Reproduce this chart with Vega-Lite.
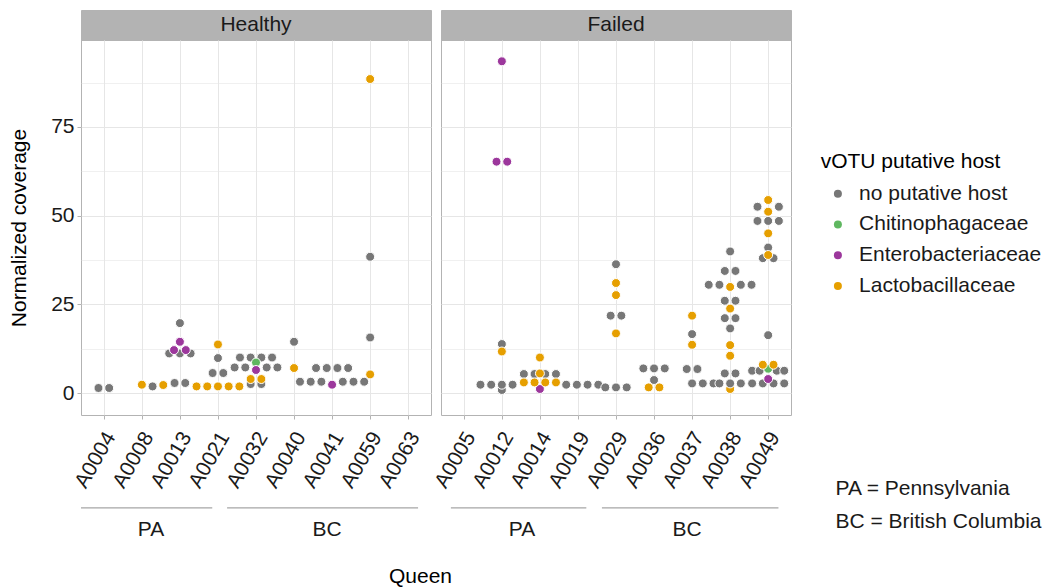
{
  "$schema": "https://vega.github.io/schema/vega-lite/v6.json",
  "background": "white",
  "padding": {"left": 8, "top": 9, "right": 0, "bottom": 0},
  "config": {
    "font": "Liberation Sans",
    "view": {"stroke": "#B3B3B3", "strokeWidth": 1},
    "axis": {"labelFont": "Liberation Sans", "titleFont": "Liberation Sans", "labelFontSize": 21, "titleFontSize": 21, "titleFontWeight": "normal", "labelColor": "#1A1A1A", "titleColor": "#000000", "gridColor": "#E6E6E6", "tickColor": "#B3B3B3", "domain": false},
    "legend": {"orient": "none", "legendX": 739.7, "legendY": 141.4, "titleFont": "Liberation Sans", "labelFont": "Liberation Sans", "titleFontSize": 21, "titleFontWeight": "normal", "titleColor": "#000000", "labelFontSize": 21, "labelColor": "#1A1A1A", "labelLimit": 400, "symbolType": "circle", "symbolSize": 64, "symbolStrokeWidth": 0, "symbolOpacity": 1, "symbolOffset": 6.7, "labelOffset": 10.7, "rowPadding": 8.7, "titlePadding": 10.9, "padding": 0}
  },
  "title": {"text": "Queen", "orient": "bottom", "anchor": "start", "frame": "group", "dx": 308, "offset": 21, "fontSize": 21, "fontWeight": "normal", "font": "Liberation Sans", "color": "#000000"},
  "datasets": {
    "pts": [
      {"status": "Healthy", "queen": "A0004", "host": "no putative host", "coverage": 1.41, "offset": -0.5},
      {"status": "Healthy", "queen": "A0004", "host": "no putative host", "coverage": 1.41, "offset": 0.5},
      {"status": "Healthy", "queen": "A0008", "host": "no putative host", "coverage": 1.86, "offset": 1},
      {"status": "Healthy", "queen": "A0013", "host": "no putative host", "coverage": 2.82, "offset": -0.5},
      {"status": "Healthy", "queen": "A0013", "host": "no putative host", "coverage": 2.82, "offset": 0.5},
      {"status": "Healthy", "queen": "A0013", "host": "no putative host", "coverage": 11.15, "offset": -1},
      {"status": "Healthy", "queen": "A0013", "host": "no putative host", "coverage": 11.15, "offset": 0},
      {"status": "Healthy", "queen": "A0013", "host": "no putative host", "coverage": 11.15, "offset": 1},
      {"status": "Healthy", "queen": "A0013", "host": "no putative host", "coverage": 19.7, "offset": 0},
      {"status": "Healthy", "queen": "A0021", "host": "no putative host", "coverage": 5.63, "offset": -0.5},
      {"status": "Healthy", "queen": "A0021", "host": "no putative host", "coverage": 5.63, "offset": 0.5},
      {"status": "Healthy", "queen": "A0021", "host": "no putative host", "coverage": 9.85, "offset": 0},
      {"status": "Healthy", "queen": "A0032", "host": "no putative host", "coverage": 2.53, "offset": -0.5},
      {"status": "Healthy", "queen": "A0032", "host": "no putative host", "coverage": 2.53, "offset": 0.5},
      {"status": "Healthy", "queen": "A0032", "host": "no putative host", "coverage": 7.2, "offset": -2},
      {"status": "Healthy", "queen": "A0032", "host": "no putative host", "coverage": 7.2, "offset": -1},
      {"status": "Healthy", "queen": "A0032", "host": "no putative host", "coverage": 7.2, "offset": 1},
      {"status": "Healthy", "queen": "A0032", "host": "no putative host", "coverage": 7.2, "offset": 2},
      {"status": "Healthy", "queen": "A0032", "host": "no putative host", "coverage": 10.0, "offset": -1.5},
      {"status": "Healthy", "queen": "A0032", "host": "no putative host", "coverage": 10.0, "offset": -0.5},
      {"status": "Healthy", "queen": "A0032", "host": "no putative host", "coverage": 10.0, "offset": 0.5},
      {"status": "Healthy", "queen": "A0032", "host": "no putative host", "coverage": 10.0, "offset": 1.5},
      {"status": "Healthy", "queen": "A0040", "host": "no putative host", "coverage": 14.44, "offset": 0},
      {"status": "Healthy", "queen": "A0041", "host": "no putative host", "coverage": 3.18, "offset": -3},
      {"status": "Healthy", "queen": "A0041", "host": "no putative host", "coverage": 3.18, "offset": -2},
      {"status": "Healthy", "queen": "A0041", "host": "no putative host", "coverage": 3.18, "offset": -1},
      {"status": "Healthy", "queen": "A0041", "host": "no putative host", "coverage": 3.18, "offset": 1},
      {"status": "Healthy", "queen": "A0041", "host": "no putative host", "coverage": 3.18, "offset": 2},
      {"status": "Healthy", "queen": "A0041", "host": "no putative host", "coverage": 3.18, "offset": 3},
      {"status": "Healthy", "queen": "A0041", "host": "no putative host", "coverage": 7.04, "offset": -1.5},
      {"status": "Healthy", "queen": "A0041", "host": "no putative host", "coverage": 7.04, "offset": -0.5},
      {"status": "Healthy", "queen": "A0041", "host": "no putative host", "coverage": 7.04, "offset": 0.5},
      {"status": "Healthy", "queen": "A0041", "host": "no putative host", "coverage": 7.04, "offset": 1.5},
      {"status": "Healthy", "queen": "A0059", "host": "no putative host", "coverage": 15.65, "offset": 0},
      {"status": "Healthy", "queen": "A0059", "host": "no putative host", "coverage": 38.4, "offset": 0},
      {"status": "Healthy", "queen": "A0032", "host": "Chitinophagaceae", "coverage": 8.6, "offset": 0},
      {"status": "Healthy", "queen": "A0013", "host": "Enterobacteriaceae", "coverage": 12.1, "offset": -0.55},
      {"status": "Healthy", "queen": "A0013", "host": "Enterobacteriaceae", "coverage": 12.1, "offset": 0.55},
      {"status": "Healthy", "queen": "A0013", "host": "Enterobacteriaceae", "coverage": 14.44, "offset": 0},
      {"status": "Healthy", "queen": "A0032", "host": "Enterobacteriaceae", "coverage": 6.48, "offset": 0},
      {"status": "Healthy", "queen": "A0041", "host": "Enterobacteriaceae", "coverage": 2.34, "offset": 0},
      {"status": "Healthy", "queen": "A0008", "host": "Lactobacillaceae", "coverage": 2.34, "offset": 0},
      {"status": "Healthy", "queen": "A0008", "host": "Lactobacillaceae", "coverage": 2.25, "offset": 2},
      {"status": "Healthy", "queen": "A0021", "host": "Lactobacillaceae", "coverage": 1.86, "offset": -2},
      {"status": "Healthy", "queen": "A0021", "host": "Lactobacillaceae", "coverage": 1.86, "offset": -1},
      {"status": "Healthy", "queen": "A0021", "host": "Lactobacillaceae", "coverage": 1.86, "offset": 0},
      {"status": "Healthy", "queen": "A0021", "host": "Lactobacillaceae", "coverage": 1.86, "offset": 1},
      {"status": "Healthy", "queen": "A0021", "host": "Lactobacillaceae", "coverage": 1.86, "offset": 2},
      {"status": "Healthy", "queen": "A0021", "host": "Lactobacillaceae", "coverage": 13.68, "offset": 0},
      {"status": "Healthy", "queen": "A0032", "host": "Lactobacillaceae", "coverage": 3.94, "offset": -0.5},
      {"status": "Healthy", "queen": "A0032", "host": "Lactobacillaceae", "coverage": 3.94, "offset": 0.5},
      {"status": "Healthy", "queen": "A0040", "host": "Lactobacillaceae", "coverage": 7.04, "offset": 0},
      {"status": "Healthy", "queen": "A0059", "host": "Lactobacillaceae", "coverage": 5.24, "offset": 0},
      {"status": "Healthy", "queen": "A0059", "host": "Lactobacillaceae", "coverage": 88.5, "offset": 0},

      {"status": "Failed", "queen": "A0038", "host": "Lactobacillaceae", "coverage": 1.13, "offset": 0},
      {"status": "Failed", "queen": "A0012", "host": "no putative host", "coverage": 0.85, "offset": 0},
      {"status": "Failed", "queen": "A0012", "host": "no putative host", "coverage": 2.34, "offset": -2},
      {"status": "Failed", "queen": "A0012", "host": "no putative host", "coverage": 2.34, "offset": -1},
      {"status": "Failed", "queen": "A0012", "host": "no putative host", "coverage": 2.34, "offset": 0},
      {"status": "Failed", "queen": "A0012", "host": "no putative host", "coverage": 2.34, "offset": 1},
      {"status": "Failed", "queen": "A0012", "host": "no putative host", "coverage": 13.8, "offset": 0},
      {"status": "Failed", "queen": "A0014", "host": "no putative host", "coverage": 5.35, "offset": -1.5},
      {"status": "Failed", "queen": "A0014", "host": "no putative host", "coverage": 5.35, "offset": -0.5},
      {"status": "Failed", "queen": "A0014", "host": "no putative host", "coverage": 5.35, "offset": 0.5},
      {"status": "Failed", "queen": "A0014", "host": "no putative host", "coverage": 5.35, "offset": 1.5},
      {"status": "Failed", "queen": "A0019", "host": "no putative host", "coverage": 2.34, "offset": -1.1},
      {"status": "Failed", "queen": "A0019", "host": "no putative host", "coverage": 2.34, "offset": -0.1},
      {"status": "Failed", "queen": "A0019", "host": "no putative host", "coverage": 2.34, "offset": 0.9},
      {"status": "Failed", "queen": "A0019", "host": "no putative host", "coverage": 2.34, "offset": 1.9},
      {"status": "Failed", "queen": "A0029", "host": "no putative host", "coverage": 1.58, "offset": -1},
      {"status": "Failed", "queen": "A0029", "host": "no putative host", "coverage": 1.58, "offset": 0},
      {"status": "Failed", "queen": "A0029", "host": "no putative host", "coverage": 1.58, "offset": 1},
      {"status": "Failed", "queen": "A0029", "host": "no putative host", "coverage": 21.8, "offset": -0.5},
      {"status": "Failed", "queen": "A0029", "host": "no putative host", "coverage": 21.8, "offset": 0.5},
      {"status": "Failed", "queen": "A0029", "host": "no putative host", "coverage": 36.3, "offset": 0},
      {"status": "Failed", "queen": "A0036", "host": "no putative host", "coverage": 3.66, "offset": 0},
      {"status": "Failed", "queen": "A0036", "host": "no putative host", "coverage": 6.93, "offset": -1},
      {"status": "Failed", "queen": "A0036", "host": "no putative host", "coverage": 6.93, "offset": 0},
      {"status": "Failed", "queen": "A0036", "host": "no putative host", "coverage": 6.93, "offset": 1},
      {"status": "Failed", "queen": "A0037", "host": "no putative host", "coverage": 2.7, "offset": 0},
      {"status": "Failed", "queen": "A0037", "host": "no putative host", "coverage": 2.7, "offset": 1},
      {"status": "Failed", "queen": "A0037", "host": "no putative host", "coverage": 2.7, "offset": 2},
      {"status": "Failed", "queen": "A0037", "host": "no putative host", "coverage": 6.76, "offset": -0.5},
      {"status": "Failed", "queen": "A0037", "host": "no putative host", "coverage": 6.76, "offset": 0.5},
      {"status": "Failed", "queen": "A0037", "host": "no putative host", "coverage": 16.6, "offset": 0},
      {"status": "Failed", "queen": "A0038", "host": "no putative host", "coverage": 2.7, "offset": -1},
      {"status": "Failed", "queen": "A0038", "host": "no putative host", "coverage": 2.7, "offset": 0},
      {"status": "Failed", "queen": "A0038", "host": "no putative host", "coverage": 2.7, "offset": 1},
      {"status": "Failed", "queen": "A0038", "host": "no putative host", "coverage": 5.52, "offset": -0.5},
      {"status": "Failed", "queen": "A0038", "host": "no putative host", "coverage": 5.52, "offset": 0.5},
      {"status": "Failed", "queen": "A0038", "host": "no putative host", "coverage": 18.2, "offset": 0},
      {"status": "Failed", "queen": "A0038", "host": "no putative host", "coverage": 21.1, "offset": -0.5},
      {"status": "Failed", "queen": "A0038", "host": "no putative host", "coverage": 21.1, "offset": 0.5},
      {"status": "Failed", "queen": "A0038", "host": "no putative host", "coverage": 26.0, "offset": -0.5},
      {"status": "Failed", "queen": "A0038", "host": "no putative host", "coverage": 26.0, "offset": 0.5},
      {"status": "Failed", "queen": "A0038", "host": "no putative host", "coverage": 30.5, "offset": -2},
      {"status": "Failed", "queen": "A0038", "host": "no putative host", "coverage": 30.5, "offset": -1},
      {"status": "Failed", "queen": "A0038", "host": "no putative host", "coverage": 30.5, "offset": 1},
      {"status": "Failed", "queen": "A0038", "host": "no putative host", "coverage": 30.5, "offset": 2},
      {"status": "Failed", "queen": "A0038", "host": "no putative host", "coverage": 34.4, "offset": -0.5},
      {"status": "Failed", "queen": "A0038", "host": "no putative host", "coverage": 34.4, "offset": 0.5},
      {"status": "Failed", "queen": "A0038", "host": "no putative host", "coverage": 39.9, "offset": 0},
      {"status": "Failed", "queen": "A0049", "host": "no putative host", "coverage": 2.7, "offset": -1.5},
      {"status": "Failed", "queen": "A0049", "host": "no putative host", "coverage": 2.7, "offset": -0.5},
      {"status": "Failed", "queen": "A0049", "host": "no putative host", "coverage": 2.7, "offset": 0.5},
      {"status": "Failed", "queen": "A0049", "host": "no putative host", "coverage": 2.7, "offset": 1.5},
      {"status": "Failed", "queen": "A0049", "host": "no putative host", "coverage": 6.28, "offset": -1.5},
      {"status": "Failed", "queen": "A0049", "host": "no putative host", "coverage": 6.28, "offset": -0.8},
      {"status": "Failed", "queen": "A0049", "host": "no putative host", "coverage": 6.28, "offset": 0.8},
      {"status": "Failed", "queen": "A0049", "host": "no putative host", "coverage": 6.28, "offset": 1.5},
      {"status": "Failed", "queen": "A0049", "host": "no putative host", "coverage": 16.3, "offset": 0},
      {"status": "Failed", "queen": "A0049", "host": "no putative host", "coverage": 38.0, "offset": -0.5},
      {"status": "Failed", "queen": "A0049", "host": "no putative host", "coverage": 38.0, "offset": 0.5},
      {"status": "Failed", "queen": "A0049", "host": "no putative host", "coverage": 41.0, "offset": 0},
      {"status": "Failed", "queen": "A0049", "host": "no putative host", "coverage": 48.5, "offset": -1},
      {"status": "Failed", "queen": "A0049", "host": "no putative host", "coverage": 48.5, "offset": 0},
      {"status": "Failed", "queen": "A0049", "host": "no putative host", "coverage": 48.5, "offset": 1},
      {"status": "Failed", "queen": "A0049", "host": "no putative host", "coverage": 52.5, "offset": -1},
      {"status": "Failed", "queen": "A0049", "host": "no putative host", "coverage": 52.5, "offset": 1},
      {"status": "Failed", "queen": "A0049", "host": "Chitinophagaceae", "coverage": 6.84, "offset": 0},
      {"status": "Failed", "queen": "A0012", "host": "Enterobacteriaceae", "coverage": 65.2, "offset": -0.5},
      {"status": "Failed", "queen": "A0012", "host": "Enterobacteriaceae", "coverage": 65.2, "offset": 0.5},
      {"status": "Failed", "queen": "A0012", "host": "Enterobacteriaceae", "coverage": 93.5, "offset": 0},
      {"status": "Failed", "queen": "A0014", "host": "Enterobacteriaceae", "coverage": 1.13, "offset": 0},
      {"status": "Failed", "queen": "A0049", "host": "Enterobacteriaceae", "coverage": 3.94, "offset": 0},
      {"status": "Failed", "queen": "A0012", "host": "Lactobacillaceae", "coverage": 11.7, "offset": 0},
      {"status": "Failed", "queen": "A0014", "host": "Lactobacillaceae", "coverage": 2.98, "offset": -1.5},
      {"status": "Failed", "queen": "A0014", "host": "Lactobacillaceae", "coverage": 2.98, "offset": -0.5},
      {"status": "Failed", "queen": "A0014", "host": "Lactobacillaceae", "coverage": 2.98, "offset": 0.5},
      {"status": "Failed", "queen": "A0014", "host": "Lactobacillaceae", "coverage": 2.98, "offset": 1.5},
      {"status": "Failed", "queen": "A0014", "host": "Lactobacillaceae", "coverage": 5.52, "offset": 0},
      {"status": "Failed", "queen": "A0014", "host": "Lactobacillaceae", "coverage": 10.0, "offset": 0},
      {"status": "Failed", "queen": "A0029", "host": "Lactobacillaceae", "coverage": 16.8, "offset": 0},
      {"status": "Failed", "queen": "A0029", "host": "Lactobacillaceae", "coverage": 27.6, "offset": 0},
      {"status": "Failed", "queen": "A0029", "host": "Lactobacillaceae", "coverage": 31.0, "offset": 0},
      {"status": "Failed", "queen": "A0036", "host": "Lactobacillaceae", "coverage": 1.58, "offset": -0.5},
      {"status": "Failed", "queen": "A0036", "host": "Lactobacillaceae", "coverage": 1.58, "offset": 0.5},
      {"status": "Failed", "queen": "A0037", "host": "Lactobacillaceae", "coverage": 13.6, "offset": 0},
      {"status": "Failed", "queen": "A0037", "host": "Lactobacillaceae", "coverage": 21.8, "offset": 0},
      {"status": "Failed", "queen": "A0038", "host": "Lactobacillaceae", "coverage": 10.5, "offset": 0},
      {"status": "Failed", "queen": "A0038", "host": "Lactobacillaceae", "coverage": 13.5, "offset": 0},
      {"status": "Failed", "queen": "A0038", "host": "Lactobacillaceae", "coverage": 23.8, "offset": 0},
      {"status": "Failed", "queen": "A0038", "host": "Lactobacillaceae", "coverage": 29.9, "offset": 0},
      {"status": "Failed", "queen": "A0049", "host": "Lactobacillaceae", "coverage": 7.97, "offset": -0.5},
      {"status": "Failed", "queen": "A0049", "host": "Lactobacillaceae", "coverage": 7.97, "offset": 0.5},
      {"status": "Failed", "queen": "A0049", "host": "Lactobacillaceae", "coverage": 38.9, "offset": 0},
      {"status": "Failed", "queen": "A0049", "host": "Lactobacillaceae", "coverage": 45.0, "offset": 0},
      {"status": "Failed", "queen": "A0049", "host": "Lactobacillaceae", "coverage": 51.1, "offset": 0},
      {"status": "Failed", "queen": "A0049", "host": "Lactobacillaceae", "coverage": 54.4, "offset": 0}
    ],
    "groups": [
      {"status": "Healthy", "group": "PA", "start": -0.6, "end": 2.85, "mid": 1.24},
      {"status": "Healthy", "group": "BC", "start": 3.24, "end": 8.26, "mid": 5.87},
      {"status": "Failed", "group": "PA", "start": -0.34, "end": 3.22, "mid": 1.53},
      {"status": "Failed", "group": "BC", "start": 3.63, "end": 8.27, "mid": 5.87}
    ]
  },
  "bounds": "flush",
  "columns": 3,
  "spacing": {"row": 0, "column": 10},
  "concat": [
    {
      "width": 350, "height": 30,
      "view": {"fill": "#B3B3B3", "stroke": "#B3B3B3"},
      "data": {"values": [{"panel": "Healthy"}]},
      "mark": {"type": "text", "fontSize": 21, "color": "#1A1A1A", "baseline": "middle", "font": "Liberation Sans"},
      "encoding": {"text": {"field": "panel"}}
    },
    {
      "width": 350, "height": 30,
      "view": {"fill": "#B3B3B3", "stroke": "#B3B3B3"},
      "data": {"values": [{"panel": "Failed"}]},
      "mark": {"type": "text", "fontSize": 21, "color": "#1A1A1A", "baseline": "middle", "font": "Liberation Sans"},
      "encoding": {"text": {"field": "panel"}}
    },
    {
      "width": 69, "height": 30,
      "view": {"stroke": null},
      "data": {"values": [{"blank": ""}]},
      "mark": {"type": "text"},
      "encoding": {"text": {"field": "blank"}}
    },
    {
      "width": 350, "height": 375,
      "data": {"name": "pts"},
      "transform": [{"filter": "datum.status === 'Healthy'"}],
      "mark": {"type": "circle", "size": 80, "opacity": 1, "stroke": "white", "strokeWidth": 1},
      "encoding": {
        "x": {"field": "queen", "type": "nominal", "sort": null,
          "scale": {"type": "point", "padding": 0.6, "domain": ["A0004", "A0008", "A0013", "A0021", "A0032", "A0040", "A0041", "A0059", "A0063"]},
          "axis": {"title": null, "labelAngle": -60, "labelAlign": "right", "labelBaseline": "top", "labelPadding": 9, "labelOffset": -3, "labelOverlap": false, "ticks": true, "tickSize": 4, "grid": true, "domain": false}},
        "xOffset": {"field": "offset", "type": "quantitative", "scale": {"domain": [-1, 1], "range": [-10.7, 10.7]}},
        "y": {"field": "coverage", "type": "quantitative",
          "scale": {"domain": [-6.2, 99.5], "nice": false, "zero": false},
          "axis": {"title": "Normalized coverage", "values": [0, 12.5, 25, 37.5, 50, 62.5, 75, 87.5],
            "labelExpr": "datum.value % 25 === 0 ? datum.label : ''",
            "labelOverlap": false,
            "tickOpacity": {"condition": {"test": "datum.value % 25 !== 0", "value": 0}, "value": 1},
            "gridWidth": {"condition": {"test": "datum.value % 25 !== 0", "value": 0.6}, "value": 1.1},
            "tickSize": 4, "labelPadding": 3, "titlePadding": 21, "grid": true}},
        "color": {"field": "host", "type": "nominal",
          "scale": {"domain": ["no putative host", "Chitinophagaceae", "Enterobacteriaceae", "Lactobacillaceae"], "range": ["#777777", "#5FB760", "#9C379C", "#E69F00"]},
          "legend": {"title": "vOTU putative host"}}
      }
    },
    {
      "width": 350, "height": 375,
      "data": {"name": "pts"},
      "transform": [{"filter": "datum.status === 'Failed'"}],
      "mark": {"type": "circle", "size": 80, "opacity": 1, "stroke": "white", "strokeWidth": 1},
      "encoding": {
        "x": {"field": "queen", "type": "nominal", "sort": null,
          "scale": {"type": "point", "padding": 0.6, "domain": ["A0005", "A0012", "A0014", "A0019", "A0029", "A0036", "A0037", "A0038", "A0049"]},
          "axis": {"title": null, "labelAngle": -60, "labelAlign": "right", "labelBaseline": "top", "labelPadding": 9, "labelOffset": -3, "labelOverlap": false, "ticks": true, "tickSize": 4, "grid": true, "domain": false}},
        "xOffset": {"field": "offset", "type": "quantitative", "scale": {"domain": [-1, 1], "range": [-10.7, 10.7]}},
        "y": {"field": "coverage", "type": "quantitative",
          "scale": {"domain": [-6.2, 99.5], "nice": false, "zero": false},
          "axis": {"title": null, "labels": false, "ticks": false, "values": [0, 12.5, 25, 37.5, 50, 62.5, 75, 87.5],
            "gridWidth": {"condition": {"test": "datum.value % 25 !== 0", "value": 0.6}, "value": 1.1},
            "grid": true}},
        "color": {"field": "host", "type": "nominal",
          "scale": {"domain": ["no putative host", "Chitinophagaceae", "Enterobacteriaceae", "Lactobacillaceae"], "range": ["#777777", "#5FB760", "#9C379C", "#E69F00"]},
          "legend": {"title": "vOTU putative host"}}
      }
    },
    {
      "width": 69, "height": 375,
      "view": {"stroke": null},
      "data": {"values": [{"blank": ""}]},
      "mark": {"type": "text"},
      "encoding": {"text": {"field": "blank"}}
    },
    {
      "width": 350, "height": 130,
      "view": {"stroke": null},
      "data": {"name": "groups"},
      "transform": [{"filter": "datum.status === 'Healthy'"}],
      "layer": [
        {"mark": {"type": "rule", "color": "#A6A6A6", "strokeWidth": 1.2},
         "encoding": {
           "x": {"field": "start", "type": "quantitative", "scale": {"domain": [-0.6, 8.6], "nice": false, "zero": false}, "axis": null},
           "x2": {"field": "end"},
           "y": {"datum": 0.285, "type": "quantitative", "scale": {"domain": [0, 1]}, "axis": null}}},
        {"mark": {"type": "text", "fontSize": 21, "color": "#1A1A1A", "baseline": "middle", "font": "Liberation Sans"},
         "encoding": {
           "x": {"field": "mid", "type": "quantitative", "axis": null},
           "y": {"datum": 0.115, "type": "quantitative", "axis": null},
           "text": {"field": "group"}}}
      ]
    },
    {
      "width": 350, "height": 130,
      "view": {"stroke": null},
      "data": {"name": "groups"},
      "transform": [{"filter": "datum.status === 'Failed'"}],
      "layer": [
        {"mark": {"type": "rule", "color": "#A6A6A6", "strokeWidth": 1.2},
         "encoding": {
           "x": {"field": "start", "type": "quantitative", "scale": {"domain": [-0.6, 8.6], "nice": false, "zero": false}, "axis": null},
           "x2": {"field": "end"},
           "y": {"datum": 0.285, "type": "quantitative", "scale": {"domain": [0, 1]}, "axis": null}}},
        {"mark": {"type": "text", "fontSize": 21, "color": "#1A1A1A", "baseline": "middle", "font": "Liberation Sans"},
         "encoding": {
           "x": {"field": "mid", "type": "quantitative", "axis": null},
           "y": {"datum": 0.115, "type": "quantitative", "axis": null},
           "text": {"field": "group"}}}
      ]
    },
    {
      "width": 69, "height": 130,
      "view": {"stroke": null},
      "data": {"values": [{"line": 1, "note": "PA = Pennsylvania"}, {"line": 2, "note": "BC = British Columbia"}]},
      "mark": {"type": "text", "align": "left", "baseline": "middle", "fontSize": 21, "color": "#1A1A1A", "font": "Liberation Sans"},
      "encoding": {
        "y": {"field": "line", "type": "ordinal", "scale": {"type": "point", "padding": 0, "range": [73.7, 107.4]}, "axis": null},
        "text": {"field": "note"}
      }
    }
  ]
}
